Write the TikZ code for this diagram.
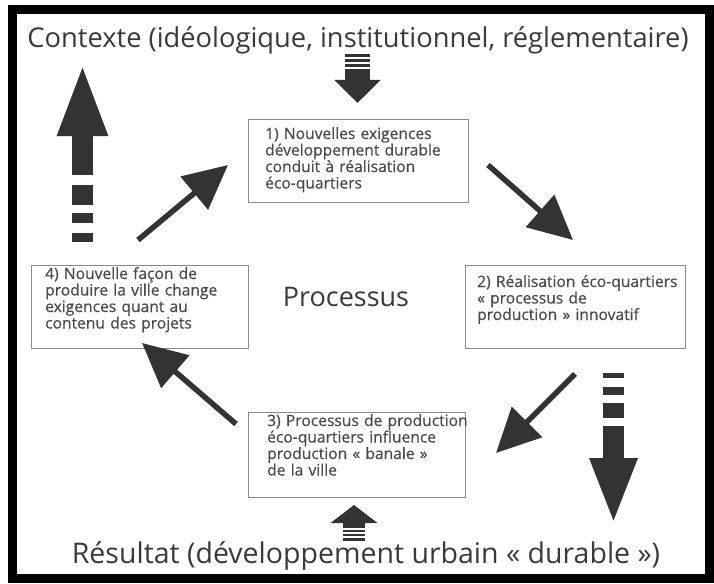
\documentclass[tikz,border=0pt]{standalone}
\usepackage{fontspec}
\setmainfont{Open Sans}
\newfontfamily\boxfont[FakeBold=0.5]{Open Sans}
\usetikzlibrary{arrows.meta,calc}
\definecolor{ink}{HTML}{333333}
\definecolor{boxline}{HTML}{8A8A8A}
\definecolor{txt}{HTML}{4A4A4A}
\definecolor{ttl}{HTML}{3A3A3A}
\begin{document}
\begin{tikzpicture}[x=1pt,y=-1pt,
  boxstyle/.style={draw=boxline, line width=1.3pt, anchor=north west, inner sep=0pt},
  boxtext/.style={anchor=base west, align=left, text width=225pt, text=txt, inner sep=0pt,
    font=\boxfont\fontsize{15.6}{16.5}\selectfont},
  bigtitle/.style={anchor=base, text=ttl, inner sep=0pt, font=\fontsize{27.3}{30}\selectfont},
  diag/.style={draw=ink, line width=5.5pt, -{Triangle[length=44pt,width=42pt]}},
  stripe/.style={fill=ink}]
\useasboundingbox (0,0) rectangle (714,583);
\draw[line width=9pt, fill=white] (12.5,9.5) rectangle (709.5,578.5);

% titles
\node[bigtitle] (ctx) at (358,48) {Contexte (idéologique, institutionnel, réglementaire)};
\node[bigtitle, font=\fontsize{28.5}{30}\selectfont] (res) at (366,563) {Résultat (développement urbain «~durable~»)};
\node[bigtitle, font=\fontsize{27}{30}\selectfont] (proc) at (346,306) {Processus};

% boxes
\node[boxstyle, minimum width=220pt, minimum height=83pt] (b1) at (248,119) {};
\node[boxstyle, minimum width=220pt, minimum height=83pt] (b2) at (465,265) {};
\node[boxstyle, minimum width=217pt, minimum height=83pt] (b4) at (31,265) {};
\node[boxstyle, minimum width=217pt, minimum height=85pt] (b3) at (248,412) {};

\node[boxtext] (t1) at (265,139) {1) Nouvelles exigences\\ développement durable\\ conduit à réalisation\\ éco-quartiers};
\node[boxtext] (t2) at (477,287) {2) Réalisation éco-quartiers\\ «~processus de\\ production~» innovatif};
\node[boxtext] (t4) at (45,279) {4) Nouvelle façon de\\ produire la ville change\\ exigences quant au\\ contenu des projets};
\node[boxtext] (t3) at (267,426) {3) Processus de production\\ éco-quartiers influence\\ production «~banale~»\\ de la ville};

% diagonal arrows
\coordinate (a41s) at (138,240); \coordinate (a41e) at (228,165);
\coordinate (a12s) at (488,165); \coordinate (a12e) at (573,240);
\coordinate (a23s) at (575,374); \coordinate (a23e) at (496,453);
\coordinate (a34s) at (236,424); \coordinate (a34e) at (142,343);
\draw[diag] (a41s) -- (a41e);
\draw[diag] (a12s) -- (a12e);
\draw[diag] (a23s) -- (a23e);
\draw[diag] (a34s) -- (a34e);

% big left arrow (up)
\coordinate (L0) at (82.5,175); \coordinate (L1) at (82.5,62);
\draw[ink, line width=21pt, -{Triangle[length=74pt,width=45pt]}] (L0) -- (L1);
\fill[stripe] (72,185) rectangle (93,205);
\fill[stripe] (72,213) rectangle (93,223);
\fill[stripe] (72,233) rectangle (93,242);

% big right arrow (down)
\coordinate (R0) at (613.5,426); \coordinate (R1) at (613.5,525);
\draw[ink, line width=21pt, -{Triangle[length=67pt,width=43pt]}] (R0) -- (R1);
\fill[stripe] (603,373) rectangle (624,378);
\fill[stripe] (603,387) rectangle (624,395);
\fill[stripe] (603,403) rectangle (624,418);

% top small arrow (down)
\coordinate (T0) at (357.5,69); \coordinate (T1) at (357.5,103);
\draw[ink, line width=25pt, -{Triangle[length=23pt,width=45pt]}] (T0) -- (T1);
\fill[stripe] (345,54) rectangle (370,57);
\fill[stripe] (345,59) rectangle (370,62);
\fill[stripe] (345,64) rectangle (370,67);

% bottom small arrow (up)
\coordinate (B0) at (354,528); \coordinate (B1) at (354,505);
\draw[ink, line width=22pt, -{Triangle[length=18pt,width=46pt]}] (B0) -- (B1);
\fill[stripe] (343,530) rectangle (365,532);
\fill[stripe] (343,534) rectangle (365,536);
\fill[stripe] (343,538) rectangle (365,541);
\end{tikzpicture}
\end{document}
